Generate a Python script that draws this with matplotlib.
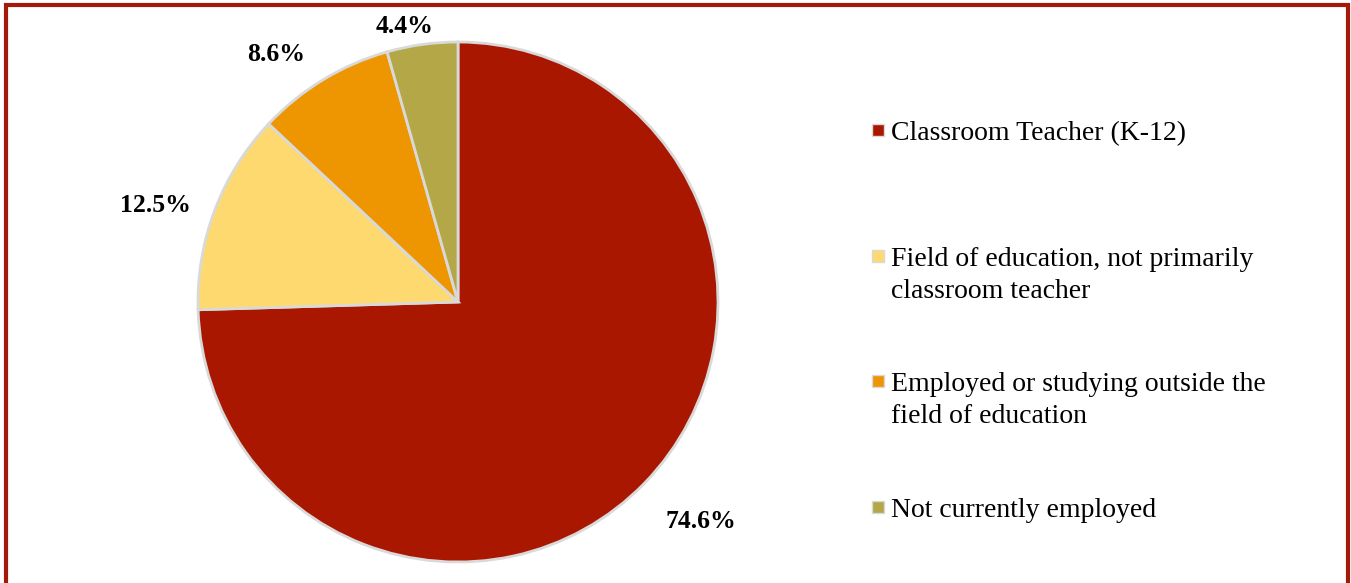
import matplotlib
matplotlib.use("Agg")
import matplotlib.pyplot as plt
import matplotlib.patches as mpatches
import numpy as np

# data
categories = ["Classroom Teacher (K-12)",
              "Field of education, not primarily\nclassroom teacher",
              "Employed or studying outside the\nfield of education",
              "Not currently employed"]
shares = [74.6, 12.5, 8.6, 4.4]
slice_colors = ["#AA1700", "#FDD96F", "#EE9602", "#B3A747"]

W, H = 1351, 583
fig = plt.figure(figsize=(W / 100, H / 100), dpi=100)
fig.patch.set_facecolor("white")


def px(x, y):
    # pixel coords from top-left -> figure fraction
    return x / W, 1 - y / H


# pie axes: center (458, 302), radius 260 px
cx, cy, r = 458, 302, 260
lim = 1.1
half = r * lim
ax = fig.add_axes([(cx - half) / W, (H - cy - half) / H, 2 * half / W, 2 * half / H])
wedges, _ = ax.pie(shares, colors=slice_colors, startangle=90, counterclock=False,
                   wedgeprops=dict(edgecolor="#D9D9D9", linewidth=2))
ax.set_xlim(-lim, lim)
ax.set_ylim(-lim, lim)
ax.set_aspect("equal")
ax.axis("off")

# percentage labels outside each slice
label_dist = [1.26, 1.22, 1.18, 1.08]
label_shift = [2, 3, 5, 3]  # degrees, nudge like the Excel layout
for w, v, d, s in zip(wedges, shares, label_dist, label_shift):
    mid = np.deg2rad((w.theta1 + w.theta2) / 2 + s)
    ax.text(d * np.cos(mid), d * np.sin(mid), f"{v}%", ha="center", va="center",
            fontsize=18.5, fontweight="bold", family="Liberation Serif", color="black")

# legend drawn by hand so markers line up with first text line
base0, step = 140, 125.7
for i, (lab, col) in enumerate(zip(categories, slice_colors)):
    base = base0 + i * step
    x0, y0 = px(872, base - 4)
    sq = mpatches.Rectangle((x0, y0), 12 / W, 12 / H, transform=fig.transFigure,
                            facecolor=col, edgecolor="#D9D9D9", linewidth=1)
    fig.patches.append(sq)
    first, *rest = lab.split("\n")
    tx, ty = px(891, base)
    fig.text(tx, ty, first, ha="left", va="baseline", fontsize=20,
             family="Liberation Serif", color="black")
    for j, line in enumerate(rest):
        tx, ty = px(891, base + 32 * (j + 1))
        fig.text(tx, ty, line, ha="left", va="baseline", fontsize=20,
                 family="Liberation Serif", color="black")

# dark red frame (bottom edge falls outside the image)
bx0, by0 = px(6, 620)
bx1, by1 = px(1348, 5)
frame = mpatches.Rectangle((bx0, by0), bx1 - bx0, by1 - by0, transform=fig.transFigure,
                           fill=False, edgecolor="#A31A0B", linewidth=3, clip_on=False)
fig.patches.append(frame)

fig.savefig("out.png", dpi=100)
